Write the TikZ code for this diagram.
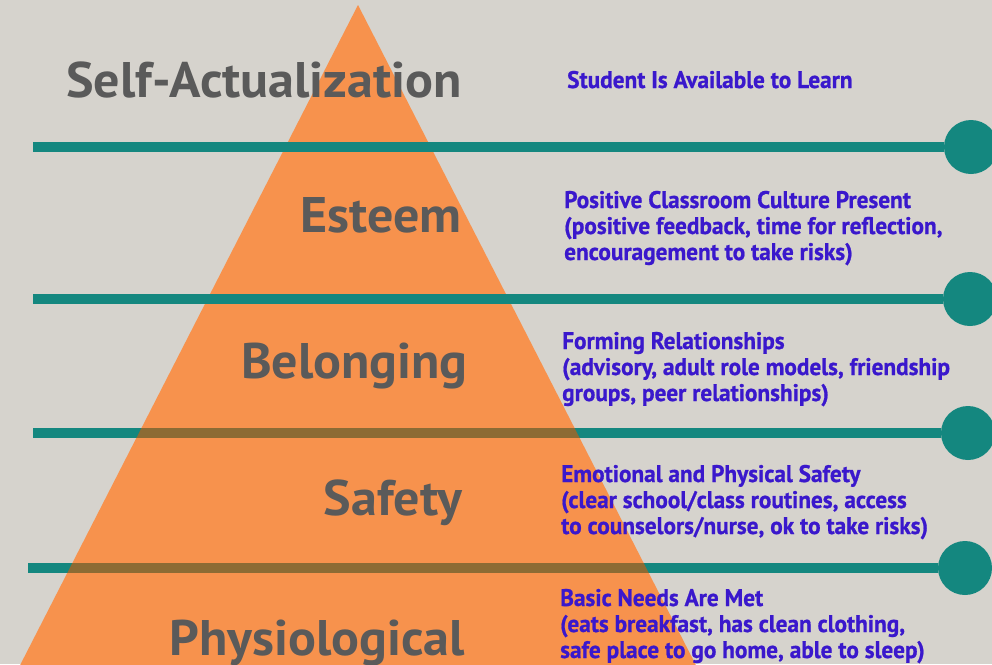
\documentclass[tikz,border=0pt]{standalone}
\usepackage{fontspec}
\setmainfont{PT Sans}
\newfontfamily\headfont{PT Sans}[FakeStretch=1.04]
\newfontfamily\notefont{PT Sans}[FakeStretch=0.97, FakeBold=0.8]
\definecolor{paper}{HTML}{D6D3CD}
\definecolor{pyramid}{HTML}{F7924D}
\definecolor{bar}{HTML}{14877F}
\definecolor{barshade}{HTML}{8C6B34}
\definecolor{labelgray}{HTML}{5A5A5A}
\definecolor{noteblue}{HTML}{3A18CC}
% three lines of a note, baseline at the first one
\newcommand\notelines[3]{\vtop{\baselineskip=26pt\hbox{#1}\hbox{#2}\hbox{#3}}}
\begin{document}
\begin{tikzpicture}[x=1pt,y=-1pt,
  level/.style={anchor=base east, inner sep=0pt, text=labelgray,
    font=\headfont\bfseries\fontsize{50}{56}\selectfont},
  note/.style={anchor=base west, inner sep=0pt, text=noteblue,
    font=\notefont\bfseries\fontsize{24}{26}\selectfont},
  rule/.style={draw=bar, line width=10pt},
  knob/.style={circle, fill=bar, minimum size=54pt, inner sep=0pt}]
\useasboundingbox (0,0) rectangle (992,664);
\clip (0,0) rectangle (992,664);
\fill[paper] (0,0) rectangle (992,664);

% pyramid
\coordinate (apex) at (358,5);
\coordinate (bl) at (-8,720);
\coordinate (br) at (724,720);
\fill[pyramid] (apex) -- (bl) -- (br) -- cycle;

% dividing bars with end knobs
\foreach \i/\y/\xs/\xk in {1/147/33/971, 2/299/33/970, 3/433/33/968, 4/568/28/965} {
  \coordinate (s\i) at (\xs,\y);
  \node[knob] (k\i) at (\xk,\y) {};
  \draw[rule] (s\i) -- (k\i);
}
% lower bars seen through the pyramid
\begin{scope}
  \clip (apex) -- (bl) -- (br) -- cycle;
  \draw[rule, draw=barshade] (s3) -- (k3);
  \draw[rule, draw=barshade] (s4) -- (k4);
\end{scope}

% level names
\node[level] (self) at (462,97) {Self-Actualization};
\node[level] (esteem) at (462,232) {Esteem};
\node[level] (belong) at (468,378) {Belonging};
\node[level] (safety) at (462,515) {Safety};
\node[level] (physio) at (465,655) {Physiological};

% notes
\node[note] (n1) at (567,88) {Student Is Available to Learn};
\node[note] (n2) at (564,208) {\notelines{Positive Classroom Culture Present}{(positive feedback, time for reflection,}{encouragement to take risks)}};
\node[note] (n3) at (562,349) {\notelines{Forming Relationships}{(advisory, adult role models, friendship}{groups, peer relationships)}};
\node[note] (n4) at (561,482) {\notelines{Emotional and Physical Safety}{(clear school/class routines, access}{to counselors/nurse, ok to take risks)}};
\node[note] (n5) at (560,606) {\notelines{Basic Needs Are Met}{(eats breakfast, has clean clothing,}{safe place to go home, able to sleep)}};
\end{tikzpicture}
\end{document}
